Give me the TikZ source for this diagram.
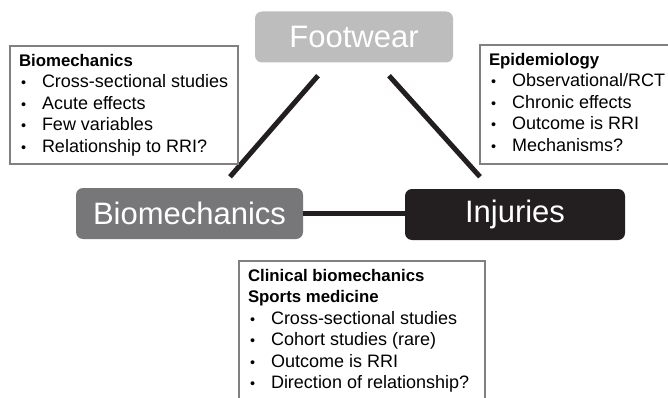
\documentclass[tikz,border=0pt]{standalone}
\usepackage{fontspec}
\setmainfont{Liberation Sans}
\usepackage{xcolor}
\usetikzlibrary{calc, positioning}
\definecolor{footgray}{HTML}{BDBDBD}
\definecolor{biogray}{HTML}{77777A}
\definecolor{injblack}{HTML}{231F20}
\definecolor{framegray}{HTML}{808080}
\tikzset{
    topic/.style={rectangle, rounded corners=7pt, text=white, minimum height=51pt, inner sep=0pt, font=\fontsize{31}{31}\selectfont},
    infobox/.style={rectangle, draw=framegray, line width=2pt, fill=white, anchor=north west, inner xsep=9pt, inner ysep=8pt, font=\fontsize{18}{21.5}\selectfont},
    link/.style={draw=injblack, line width=5pt}
}
\newcommand{\boxhead}[1]{{\fontsize{16.8}{21.5}\selectfont\bfseries #1}}
\newcommand{\bulletitem}[1]{\makebox[23pt][l]{\hspace{2pt}\scalebox{0.8}{\textbullet}}#1}

\begin{document}
\begin{tikzpicture}[x=1pt, y=-1pt]
    \useasboundingbox (0,0) rectangle (668,398);
    \clip (0,0) rectangle (668,398);

    % Topics
    \node[topic, fill=footgray, minimum width=198pt] (foot) at (354,37) {Footwear};
    \node[topic, fill=biogray, minimum width=227pt] (bio) at (189.5,213.5) {Biomechanics};
    \node[topic, fill=injblack, minimum width=220pt] (inj) at (515,214.5) {Injuries};

    % Links
    \draw[link] ($(foot.south)+(-36,13)$) -- ($(bio.north)+(40.5,-11)$);
    \draw[link] ($(foot.south)+(35,13)$) -- ($(inj.north)+(-35,-12)$);
    \draw[link] (bio.east) -- (bio.east -| inj.west);

    % Research fields
    \node[infobox] (biofield) at (9,45) {\parbox[c][102pt][t]{210pt}{\raggedright
        \boxhead{Biomechanics}\\
        \bulletitem{Cross-sectional studies}\\
        \bulletitem{Acute effects}\\
        \bulletitem{Few variables}\\
        \bulletitem{Relationship to RRI?}}};
    \node[infobox] (epifield) at (479,44) {\parbox[c][103pt][t]{177pt}{\raggedright
        \boxhead{Epidemiology}\\
        \bulletitem{Observational/RCT}\\
        \bulletitem{Chronic effects}\\
        \bulletitem{Outcome is RRI}\\
        \bulletitem{Mechanisms?}}};
    \node[infobox] (clinfield) at (238,260) {\parbox[c][150pt][t]{228pt}{\raggedright
        \boxhead{Clinical biomechanics}\\
        \boxhead{Sports medicine}\\
        \bulletitem{Cross-sectional studies}\\
        \bulletitem{Cohort studies (rare)}\\
        \bulletitem{Outcome is RRI}\\
        \bulletitem{Direction of relationship?}}};

\end{tikzpicture}
\end{document}
